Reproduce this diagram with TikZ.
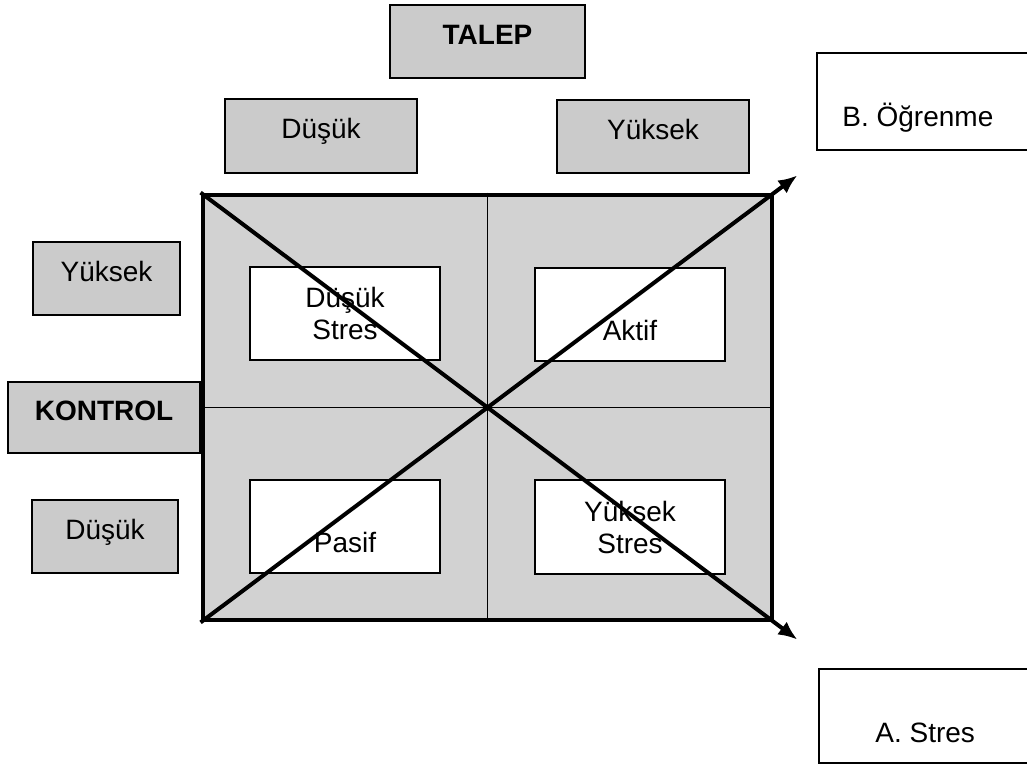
\documentclass[tikz,border=0pt]{standalone}
\usepackage{fontspec}
\setmainfont{Liberation Sans}
\usepackage{tikz}
\usetikzlibrary{arrows.meta,positioning,calc}
\definecolor{Shade}{HTML}{CBCBCB}
\definecolor{GridShade}{HTML}{D2D2D2}
\tikzset{
 lbl/.style={draw=black,line width=1.1pt,fill=Shade,inner sep=0pt,align=center,
   text height=10pt,text depth=7pt,font=\fontsize{14}{16}\selectfont},
 lblbold/.style={lbl,font=\fontsize{14}{16}\selectfont\bfseries},
 cell/.style={draw=black,line width=1pt,fill=white,inner sep=0pt,align=center,
   minimum width=95pt,minimum height=46.5pt,font=\fontsize{14}{16}\selectfont},
 outcome/.style={draw=black,line width=1.1pt,fill=white,inner sep=0pt},
 tag/.style={inner sep=0pt,anchor=base west,font=\fontsize{14}{16}\selectfont},
 arr/.style={-{Latex[length=9.5pt,width=8pt]},line width=2pt},
 divider/.style={line width=0.8pt}
}

\begin{document}
\begin{tikzpicture}[x=0.5pt,y=-0.5pt]
\useasboundingbox (0,0) rectangle (1027,769);
% demand axis
\node[lblbold,minimum width=97.5pt,minimum height=36.5pt] (talep) at (487.5,41.5) {TALEP};
\node[lbl,minimum width=96pt,minimum height=37pt] (dlow) at (321,136) {Düşük};
\node[lbl,minimum width=96pt,minimum height=36.5pt] (dhigh) at (653,136.5) {Yüksek};
% control axis
\node[lbl,minimum width=73.5pt,minimum height=36.5pt] (chigh) at (106.5,278.5) {Yüksek};
\node[lblbold,minimum width=96pt,minimum height=35.5pt] (kontrol) at (104,417.5) {KONTROL};
\node[lbl,minimum width=73pt,minimum height=36.5pt] (clow) at (105,536.5) {Düşük};
% the four quadrants
\node[draw=black,line width=2.4pt,fill=GridShade,inner sep=0pt,
  minimum width=284.5pt,minimum height=212.5pt] (grid) at (487.5,407.5) {};
\draw[divider] (grid.north) -- (grid.south);
\draw[divider] (grid.west) -- (grid.east);
\node[cell] (lowstress) at (345,313.5) {Düşük\\Stres};
\node[cell] (active) at (630,314.5) {\vphantom{Yüksek}\\Aktif};
\node[cell] (passive) at (345,526.5) {\vphantom{Yüksek}\\Pasif};
\node[cell] (highstress) at (630,527) {Yüksek\\Stres};
% outcomes
\node[outcome,minimum width=107.5pt,minimum height=48.5pt] (learn) at (924.5,101.5) {};
\node[tag] (learntxt) at (842,127) {B. Öğrenme};
\node[outcome,minimum width=106.5pt,minimum height=47pt] (strain) at (925.5,716) {};
\node[tag] (straintxt) at (875,742) {A. Stres};
\coordinate (toLearn) at ($(grid.south west)!1.04!(grid.north east)$);
\coordinate (toStrain) at ($(grid.north west)!1.04!(grid.south east)$);
\draw[arr] (grid.south west) -- (toLearn);
\draw[arr] (grid.north west) -- (toStrain);
\end{tikzpicture}
\end{document}
